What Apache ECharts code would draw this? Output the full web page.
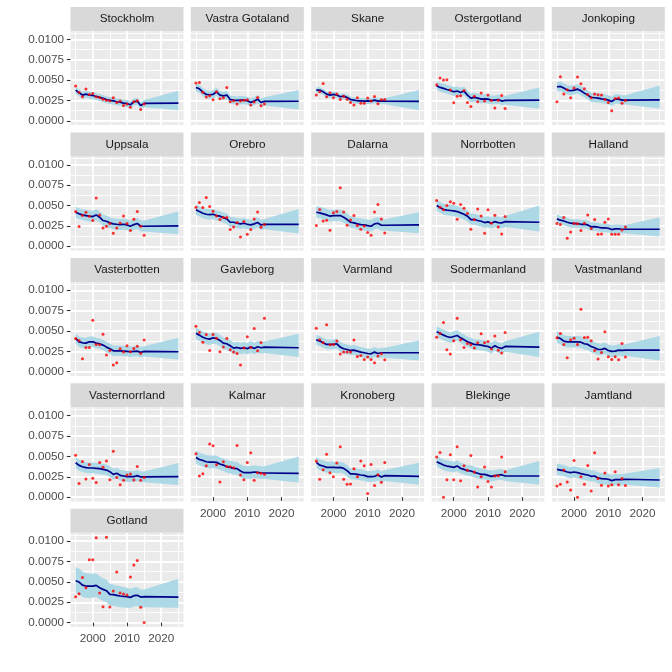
<!DOCTYPE html>
<html><head><meta charset="utf-8">
<script src="https://cdn.jsdelivr.net/npm/echarts@6/dist/echarts.min.js"></script>
<style>html,body{margin:0;padding:0;background:#fff}#c{width:672px;height:672px}</style>
</head><body><div id="c"></div>
<script>
const regions = ["Stockholm","Vastra Gotaland","Skane","Ostergotland","Jonkoping","Uppsala","Orebro","Dalarna","Norrbotten","Halland","Vasterbotten","Gavleborg","Varmland","Sodermanland","Vastmanland","Vasternorrland","Kalmar","Kronoberg","Blekinge","Jamtland","Gotland"];
const pointYears = [1995,1996,1997,1998,1999,2000,2001,2002,2003,2004,2005,2006,2007,2008,2009,2010,2011,2012,2013,2014,2015];
const fitYears = [1995,1996,1997,1998,1999,2000,2001,2002,2003,2004,2005,2006,2007,2008,2009,2010,2011,2012,2013,2014,2015,2025];
const xTicks = [2000, 2010, 2020];
const xMinor = [1995, 2005, 2015, 2025];
const yTicks = [0, 0.0025, 0.005, 0.0075, 0.01];
const yMinor = [0.00125, 0.00375, 0.00625, 0.00875, 0.01075];

const stockholm_pts = [4.26e-3,3.48e-3,2.95e-3,3.90e-3,3.24e-3,3.36e-3,2.95e-3,2.87e-3,2.66e-3,2.54e-3,2.46e-3,2.83e-3,2.25e-3,2.42e-3,1.89e-3,2.05e-3,1.68e-3,2.34e-3,2.46e-3,1.39e-3,2.05e-3];
const stockholm_fit = [3.77e-3,3.44e-3,3.16e-3,3.28e-3,3.16e-3,3.11e-3,2.99e-3,2.87e-3,2.75e-3,2.62e-3,2.50e-3,2.46e-3,2.34e-3,2.30e-3,2.17e-3,2.13e-3,1.97e-3,2.34e-3,2.42e-3,1.89e-3,2.13e-3,2.17e-3];
const stockholm_hi = [4.19e-3,3.86e-3,3.58e-3,3.70e-3,3.58e-3,3.53e-3,3.41e-3,3.29e-3,3.17e-3,3.04e-3,2.92e-3,2.88e-3,2.76e-3,2.72e-3,2.59e-3,2.55e-3,2.39e-3,2.76e-3,2.84e-3,2.31e-3,2.55e-3,3.69e-3];
const stockholm_lo = [3.32e-3,2.99e-3,2.71e-3,2.83e-3,2.71e-3,2.66e-3,2.54e-3,2.42e-3,2.30e-3,2.17e-3,2.05e-3,2.01e-3,1.89e-3,1.85e-3,1.72e-3,1.68e-3,1.52e-3,1.89e-3,1.97e-3,1.44e-3,1.68e-3,1.31e-3];

const vastragotaland_pts = [4.63e-3,4.71e-3,3.52e-3,2.91e-3,3.07e-3,2.58e-3,3.57e-3,2.70e-3,2.83e-3,4.10e-3,2.34e-3,2.46e-3,2.05e-3,2.42e-3,2.54e-3,2.58e-3,1.93e-3,2.30e-3,2.87e-3,1.84e-3,2.05e-3];
const vastragotaland_fit = [4.10e-3,3.93e-3,3.52e-3,3.24e-3,3.20e-3,3.24e-3,3.57e-3,3.16e-3,3.07e-3,3.16e-3,2.62e-3,2.54e-3,2.50e-3,2.54e-3,2.54e-3,2.46e-3,2.25e-3,2.42e-3,2.66e-3,2.25e-3,2.38e-3,2.40e-3];
const vastragotaland_hi = [4.60e-3,4.43e-3,4.02e-3,3.74e-3,3.70e-3,3.74e-3,4.07e-3,3.66e-3,3.57e-3,3.66e-3,3.12e-3,3.04e-3,3.00e-3,3.04e-3,3.04e-3,2.96e-3,2.75e-3,2.92e-3,3.16e-3,2.75e-3,2.88e-3,3.77e-3];
const vastragotaland_lo = [3.60e-3,3.43e-3,3.02e-3,2.74e-3,2.70e-3,2.74e-3,3.07e-3,2.66e-3,2.57e-3,2.66e-3,2.12e-3,2.04e-3,2.00e-3,2.04e-3,2.04e-3,1.96e-3,1.75e-3,1.92e-3,2.16e-3,1.75e-3,1.88e-3,1.39e-3];

const skane_pts = [3.16e-3,3.57e-3,4.59e-3,2.95e-3,3.44e-3,2.83e-3,3.28e-3,2.62e-3,3.03e-3,2.66e-3,2.25e-3,1.93e-3,2.83e-3,2.17e-3,2.17e-3,2.79e-3,2.42e-3,2.99e-3,2.09e-3,2.58e-3,2.62e-3];
const skane_fit = [3.77e-3,3.77e-3,3.57e-3,3.28e-3,3.16e-3,3.24e-3,3.16e-3,2.95e-3,3.03e-3,2.87e-3,2.62e-3,2.54e-3,2.46e-3,2.46e-3,2.42e-3,2.46e-3,2.42e-3,2.54e-3,2.42e-3,2.46e-3,2.42e-3,2.38e-3];
const skane_hi = [4.12e-3,4.12e-3,3.92e-3,3.63e-3,3.51e-3,3.59e-3,3.51e-3,3.30e-3,3.38e-3,3.22e-3,2.97e-3,2.89e-3,2.81e-3,2.81e-3,2.77e-3,2.81e-3,2.77e-3,2.89e-3,2.77e-3,2.81e-3,2.77e-3,3.77e-3];
const skane_lo = [3.39e-3,3.39e-3,3.19e-3,2.90e-3,2.78e-3,2.86e-3,2.78e-3,2.57e-3,2.65e-3,2.49e-3,2.24e-3,2.16e-3,2.08e-3,2.08e-3,2.04e-3,2.08e-3,2.04e-3,2.16e-3,2.04e-3,2.08e-3,2.04e-3,1.31e-3];

const ostergotland_pts = [4.43e-3,5.25e-3,5.00e-3,5.04e-3,3.77e-3,2.21e-3,3.03e-3,3.07e-3,3.73e-3,2.25e-3,1.76e-3,3.03e-3,2.34e-3,3.40e-3,2.42e-3,3.16e-3,2.50e-3,1.56e-3,2.54e-3,3.11e-3,1.52e-3];
const ostergotland_fit = [4.30e-3,4.10e-3,3.98e-3,3.85e-3,3.73e-3,3.57e-3,3.65e-3,3.48e-3,3.65e-3,3.16e-3,2.79e-3,2.87e-3,2.79e-3,2.66e-3,2.70e-3,2.66e-3,2.54e-3,2.54e-3,2.62e-3,2.42e-3,2.50e-3,2.54e-3];
const ostergotland_hi = [4.87e-3,4.67e-3,4.55e-3,4.42e-3,4.30e-3,4.14e-3,4.22e-3,4.05e-3,4.22e-3,3.73e-3,3.36e-3,3.44e-3,3.36e-3,3.23e-3,3.27e-3,3.23e-3,3.11e-3,3.11e-3,3.19e-3,2.99e-3,3.07e-3,4.10e-3];
const ostergotland_lo = [3.78e-3,3.58e-3,3.46e-3,3.33e-3,3.21e-3,3.05e-3,3.13e-3,2.96e-3,3.13e-3,2.64e-3,2.27e-3,2.35e-3,2.27e-3,2.14e-3,2.18e-3,2.14e-3,2.02e-3,2.02e-3,2.10e-3,1.90e-3,1.98e-3,1.48e-3];

const jonkoping_pts = [2.34e-3,5.41e-3,3.28e-3,3.81e-3,2.83e-3,4.02e-3,5.37e-3,4.55e-3,3.93e-3,3.24e-3,2.83e-3,3.28e-3,3.20e-3,3.16e-3,2.62e-3,2.25e-3,1.23e-3,2.75e-3,2.79e-3,2.17e-3,2.50e-3];
const jonkoping_fit = [4.18e-3,4.22e-3,4.02e-3,3.77e-3,3.69e-3,3.77e-3,3.89e-3,3.69e-3,3.40e-3,3.16e-3,2.87e-3,2.83e-3,2.79e-3,2.70e-3,2.66e-3,2.54e-3,2.38e-3,2.66e-3,2.66e-3,2.54e-3,2.54e-3,2.58e-3];
const jonkoping_hi = [4.78e-3,4.82e-3,4.62e-3,4.37e-3,4.29e-3,4.37e-3,4.49e-3,4.29e-3,4.00e-3,3.76e-3,3.47e-3,3.43e-3,3.39e-3,3.30e-3,3.26e-3,3.14e-3,2.98e-3,3.26e-3,3.26e-3,3.14e-3,3.14e-3,4.34e-3];
const jonkoping_lo = [3.63e-3,3.67e-3,3.47e-3,3.22e-3,3.14e-3,3.22e-3,3.34e-3,3.14e-3,2.85e-3,2.61e-3,2.32e-3,2.28e-3,2.24e-3,2.15e-3,2.11e-3,1.99e-3,1.83e-3,2.11e-3,2.11e-3,1.99e-3,1.99e-3,1.52e-3];

const uppsala_pts = [4.26e-3,2.42e-3,3.77e-3,4.18e-3,3.69e-3,3.16e-3,5.94e-3,3.85e-3,2.25e-3,2.46e-3,2.79e-3,1.60e-3,2.25e-3,2.87e-3,3.73e-3,2.79e-3,1.93e-3,3.32e-3,4.26e-3,2.46e-3,1.35e-3];
const uppsala_fit = [4.18e-3,3.98e-3,3.85e-3,3.77e-3,3.69e-3,3.65e-3,3.85e-3,3.57e-3,3.16e-3,3.07e-3,2.87e-3,2.75e-3,2.70e-3,2.66e-3,2.70e-3,2.62e-3,2.46e-3,2.66e-3,2.79e-3,2.46e-3,2.46e-3,2.50e-3];
const uppsala_hi = [4.88e-3,4.68e-3,4.55e-3,4.47e-3,4.39e-3,4.35e-3,4.55e-3,4.27e-3,3.86e-3,3.77e-3,3.57e-3,3.45e-3,3.40e-3,3.36e-3,3.40e-3,3.32e-3,3.16e-3,3.36e-3,3.49e-3,3.16e-3,3.16e-3,4.26e-3];
const uppsala_lo = [3.52e-3,3.32e-3,3.19e-3,3.11e-3,3.03e-3,2.99e-3,3.19e-3,2.91e-3,2.50e-3,2.41e-3,2.21e-3,2.09e-3,2.04e-3,2.00e-3,2.04e-3,1.96e-3,1.80e-3,2.00e-3,2.13e-3,1.80e-3,1.80e-3,1.48e-3];

const orebro_pts = [4.80e-3,5.37e-3,4.75e-3,5.98e-3,4.88e-3,4.30e-3,3.73e-3,3.28e-3,3.52e-3,3.52e-3,2.05e-3,2.38e-3,2.91e-3,1.15e-3,3.03e-3,1.48e-3,2.05e-3,3.36e-3,4.22e-3,2.34e-3,2.66e-3];
const orebro_fit = [4.47e-3,4.26e-3,4.06e-3,3.93e-3,3.89e-3,3.93e-3,3.77e-3,3.69e-3,3.52e-3,3.36e-3,2.95e-3,2.95e-3,2.83e-3,2.75e-3,2.83e-3,2.70e-3,2.62e-3,2.75e-3,2.91e-3,2.62e-3,2.70e-3,2.70e-3];
const orebro_hi = [5.12e-3,4.91e-3,4.71e-3,4.58e-3,4.54e-3,4.58e-3,4.42e-3,4.34e-3,4.17e-3,4.01e-3,3.60e-3,3.60e-3,3.48e-3,3.40e-3,3.48e-3,3.35e-3,3.27e-3,3.40e-3,3.56e-3,3.27e-3,3.35e-3,4.59e-3];
const orebro_lo = [3.85e-3,3.64e-3,3.44e-3,3.31e-3,3.27e-3,3.31e-3,3.15e-3,3.07e-3,2.90e-3,2.74e-3,2.33e-3,2.33e-3,2.21e-3,2.13e-3,2.21e-3,2.08e-3,2.00e-3,2.13e-3,2.29e-3,2.00e-3,2.08e-3,1.56e-3];

const dalarna_pts = [2.54e-3,4.51e-3,3.11e-3,3.20e-3,1.97e-3,4.10e-3,4.26e-3,7.17e-3,4.22e-3,2.58e-3,3.24e-3,3.77e-3,2.54e-3,2.09e-3,2.50e-3,1.68e-3,1.35e-3,4.22e-3,5.12e-3,3.36e-3,1.64e-3];
const dalarna_fit = [4.18e-3,4.10e-3,3.98e-3,3.85e-3,3.69e-3,3.77e-3,3.77e-3,3.77e-3,3.57e-3,3.28e-3,2.95e-3,2.87e-3,2.75e-3,2.66e-3,2.62e-3,2.54e-3,2.46e-3,2.75e-3,2.83e-3,2.58e-3,2.58e-3,2.62e-3];
const dalarna_hi = [4.93e-3,4.85e-3,4.73e-3,4.60e-3,4.44e-3,4.52e-3,4.52e-3,4.52e-3,4.32e-3,4.03e-3,3.70e-3,3.62e-3,3.50e-3,3.41e-3,3.37e-3,3.29e-3,3.21e-3,3.50e-3,3.58e-3,3.33e-3,3.33e-3,4.18e-3];
const dalarna_lo = [3.51e-3,3.43e-3,3.31e-3,3.18e-3,3.02e-3,3.10e-3,3.10e-3,3.10e-3,2.90e-3,2.61e-3,2.28e-3,2.20e-3,2.08e-3,1.99e-3,1.95e-3,1.87e-3,1.79e-3,2.08e-3,2.16e-3,1.91e-3,1.91e-3,1.60e-3];

const norrbotten_pts = [5.61e-3,4.80e-3,4.47e-3,5.00e-3,5.45e-3,5.29e-3,3.32e-3,5.12e-3,4.67e-3,4.02e-3,2.09e-3,3.30e-3,4.59e-3,3.73e-3,1.60e-3,4.47e-3,2.83e-3,3.81e-3,2.38e-3,1.52e-3,3.65e-3];
const norrbotten_fit = [5.00e-3,4.75e-3,4.51e-3,4.43e-3,4.39e-3,4.34e-3,4.26e-3,4.10e-3,3.93e-3,3.69e-3,3.28e-3,3.28e-3,3.16e-3,3.07e-3,2.91e-3,2.99e-3,2.83e-3,3.03e-3,2.91e-3,2.87e-3,3.03e-3,2.95e-3];
const norrbotten_hi = [5.70e-3,5.45e-3,5.21e-3,5.13e-3,5.09e-3,5.04e-3,4.96e-3,4.80e-3,4.63e-3,4.39e-3,3.98e-3,3.98e-3,3.86e-3,3.77e-3,3.61e-3,3.69e-3,3.53e-3,3.73e-3,3.61e-3,3.57e-3,3.73e-3,5.00e-3];
const norrbotten_lo = [4.35e-3,4.10e-3,3.86e-3,3.78e-3,3.74e-3,3.69e-3,3.61e-3,3.45e-3,3.28e-3,3.04e-3,2.63e-3,2.63e-3,2.51e-3,2.42e-3,2.26e-3,2.34e-3,2.18e-3,2.38e-3,2.26e-3,2.22e-3,2.38e-3,1.80e-3];

const halland_pts = [2.79e-3,2.66e-3,3.52e-3,0.98e-3,1.76e-3,2.83e-3,2.75e-3,1.93e-3,2.83e-3,3.85e-3,2.17e-3,3.28e-3,1.48e-3,1.52e-3,2.95e-3,3.36e-3,1.48e-3,1.48e-3,1.48e-3,2.00e-3,2.38e-3];
const halland_fit = [3.36e-3,3.20e-3,3.11e-3,2.95e-3,2.83e-3,2.79e-3,2.79e-3,2.70e-3,2.70e-3,2.62e-3,2.38e-3,2.42e-3,2.34e-3,2.25e-3,2.25e-3,2.21e-3,2.05e-3,2.13e-3,2.13e-3,2.09e-3,2.09e-3,2.09e-3];
const halland_hi = [3.89e-3,3.73e-3,3.64e-3,3.48e-3,3.36e-3,3.32e-3,3.32e-3,3.23e-3,3.23e-3,3.15e-3,2.91e-3,2.95e-3,2.87e-3,2.78e-3,2.78e-3,2.74e-3,2.58e-3,2.66e-3,2.66e-3,2.62e-3,2.62e-3,3.57e-3];
const halland_lo = [2.84e-3,2.68e-3,2.59e-3,2.43e-3,2.31e-3,2.27e-3,2.27e-3,2.18e-3,2.18e-3,2.10e-3,1.86e-3,1.90e-3,1.82e-3,1.73e-3,1.73e-3,1.69e-3,1.53e-3,1.61e-3,1.61e-3,1.57e-3,1.57e-3,1.19e-3];

const vasterbotten_pts = [4.08e-3,3.84e-3,1.59e-3,2.98e-3,2.98e-3,6.33e-3,3.35e-3,3.31e-3,4.61e-3,2.04e-3,2.61e-3,0.82e-3,1.10e-3,2.82e-3,2.41e-3,3.18e-3,2.45e-3,2.86e-3,3.14e-3,2.24e-3,3.88e-3];
const vasterbotten_fit = [4.08e-3,3.67e-3,3.55e-3,3.51e-3,3.67e-3,3.67e-3,3.51e-3,3.43e-3,3.27e-3,3.02e-3,2.82e-3,2.57e-3,2.57e-3,2.57e-3,2.53e-3,2.49e-3,2.45e-3,2.49e-3,2.53e-3,2.37e-3,2.49e-3,2.45e-3];
const vasterbotten_hi = [4.73e-3,4.32e-3,4.20e-3,4.16e-3,4.32e-3,4.32e-3,4.16e-3,4.08e-3,3.92e-3,3.67e-3,3.47e-3,3.22e-3,3.22e-3,3.22e-3,3.18e-3,3.14e-3,3.10e-3,3.14e-3,3.18e-3,3.02e-3,3.14e-3,4.16e-3];
const vasterbotten_lo = [3.45e-3,3.04e-3,2.92e-3,2.88e-3,3.04e-3,3.04e-3,2.88e-3,2.80e-3,2.64e-3,2.39e-3,2.19e-3,1.94e-3,1.94e-3,1.94e-3,1.90e-3,1.86e-3,1.82e-3,1.86e-3,1.90e-3,1.74e-3,1.86e-3,1.51e-3];

const gavleborg_pts = [5.59e-3,4.82e-3,3.63e-3,4.57e-3,2.61e-3,4.57e-3,4.12e-3,2.45e-3,3.02e-3,4.08e-3,2.69e-3,2.41e-3,2.24e-3,0.82e-3,2.90e-3,4.29e-3,2.98e-3,5.31e-3,2.57e-3,3.59e-3,6.57e-3];
const gavleborg_fit = [4.73e-3,4.49e-3,4.24e-3,4.08e-3,4.00e-3,4.16e-3,4.08e-3,3.84e-3,3.51e-3,3.43e-3,3.18e-3,2.90e-3,2.98e-3,2.86e-3,2.98e-3,2.82e-3,3.06e-3,2.86e-3,3.06e-3,2.94e-3,3.02e-3,2.94e-3];
const gavleborg_hi = [5.43e-3,5.19e-3,4.94e-3,4.78e-3,4.70e-3,4.86e-3,4.78e-3,4.54e-3,4.21e-3,4.13e-3,3.88e-3,3.60e-3,3.68e-3,3.56e-3,3.68e-3,3.52e-3,3.76e-3,3.56e-3,3.76e-3,3.64e-3,3.72e-3,4.65e-3];
const gavleborg_lo = [4.01e-3,3.77e-3,3.52e-3,3.36e-3,3.28e-3,3.44e-3,3.36e-3,3.12e-3,2.79e-3,2.71e-3,2.46e-3,2.18e-3,2.26e-3,2.14e-3,2.26e-3,2.10e-3,2.34e-3,2.14e-3,2.34e-3,2.22e-3,2.30e-3,1.80e-3];

const varmland_pts = [5.35e-3,3.92e-3,3.55e-3,5.76e-3,3.31e-3,3.35e-3,3.76e-3,2.16e-3,2.41e-3,2.41e-3,2.41e-3,3.88e-3,1.88e-3,2.00e-3,1.51e-3,1.80e-3,1.51e-3,1.10e-3,1.92e-3,2.20e-3,1.47e-3];
const varmland_fit = [3.92e-3,3.76e-3,3.55e-3,3.35e-3,3.35e-3,3.35e-3,3.43e-3,3.02e-3,2.82e-3,2.73e-3,2.61e-3,2.65e-3,2.53e-3,2.41e-3,2.33e-3,2.24e-3,2.20e-3,2.41e-3,2.24e-3,2.33e-3,2.33e-3,2.33e-3];
const varmland_hi = [4.54e-3,4.38e-3,4.17e-3,3.97e-3,3.97e-3,3.97e-3,4.05e-3,3.64e-3,3.44e-3,3.35e-3,3.23e-3,3.27e-3,3.15e-3,3.03e-3,2.95e-3,2.86e-3,2.82e-3,3.03e-3,2.86e-3,2.95e-3,2.95e-3,3.84e-3];
const varmland_lo = [3.32e-3,3.16e-3,2.95e-3,2.75e-3,2.75e-3,2.75e-3,2.83e-3,2.42e-3,2.22e-3,2.13e-3,2.01e-3,2.05e-3,1.93e-3,1.81e-3,1.73e-3,1.64e-3,1.60e-3,1.81e-3,1.64e-3,1.73e-3,1.73e-3,1.39e-3];

const sodermanland_pts = [4.24e-3,4.69e-3,6.04e-3,2.69e-3,2.16e-3,3.80e-3,6.57e-3,3.92e-3,2.98e-3,3.47e-3,3.31e-3,2.90e-3,3.55e-3,4.65e-3,3.55e-3,3.71e-3,2.78e-3,4.37e-3,2.65e-3,2.29e-3,4.82e-3];
const sodermanland_fit = [4.90e-3,4.73e-3,4.49e-3,4.33e-3,4.20e-3,4.33e-3,4.45e-3,4.16e-3,3.92e-3,3.67e-3,3.51e-3,3.35e-3,3.31e-3,3.27e-3,3.18e-3,3.10e-3,2.90e-3,3.18e-3,2.98e-3,2.86e-3,3.10e-3,3.02e-3];
const sodermanland_hi = [5.55e-3,5.38e-3,5.14e-3,4.98e-3,4.85e-3,4.98e-3,5.10e-3,4.81e-3,4.57e-3,4.32e-3,4.16e-3,4.00e-3,3.96e-3,3.92e-3,3.83e-3,3.75e-3,3.55e-3,3.83e-3,3.63e-3,3.51e-3,3.75e-3,4.90e-3];
const sodermanland_lo = [4.25e-3,4.08e-3,3.84e-3,3.68e-3,3.55e-3,3.68e-3,3.80e-3,3.51e-3,3.27e-3,3.02e-3,2.86e-3,2.70e-3,2.66e-3,2.62e-3,2.53e-3,2.45e-3,2.25e-3,2.53e-3,2.33e-3,2.21e-3,2.45e-3,1.80e-3];

const vastmanland_pts = [4.16e-3,4.69e-3,3.35e-3,1.71e-3,3.92e-3,4.12e-3,3.35e-3,7.67e-3,4.20e-3,4.24e-3,3.80e-3,2.61e-3,1.55e-3,2.37e-3,4.90e-3,1.84e-3,1.51e-3,1.84e-3,1.47e-3,3.47e-3,1.80e-3];
const vastmanland_fit = [4.24e-3,4.08e-3,3.76e-3,3.67e-3,3.67e-3,3.67e-3,3.67e-3,3.63e-3,3.43e-3,3.35e-3,3.10e-3,2.94e-3,2.73e-3,2.73e-3,2.86e-3,2.61e-3,2.49e-3,2.53e-3,2.65e-3,2.61e-3,2.65e-3,2.65e-3];
const vastmanland_hi = [4.96e-3,4.80e-3,4.48e-3,4.39e-3,4.39e-3,4.39e-3,4.39e-3,4.35e-3,4.15e-3,4.07e-3,3.82e-3,3.66e-3,3.45e-3,3.45e-3,3.58e-3,3.33e-3,3.21e-3,3.25e-3,3.37e-3,3.33e-3,3.37e-3,4.37e-3];
const vastmanland_lo = [3.54e-3,3.38e-3,3.06e-3,2.97e-3,2.97e-3,2.97e-3,2.97e-3,2.93e-3,2.73e-3,2.65e-3,2.40e-3,2.24e-3,2.03e-3,2.03e-3,2.16e-3,1.91e-3,1.79e-3,1.83e-3,1.95e-3,1.91e-3,1.95e-3,1.39e-3];

const vasternorrland_pts = [5.16e-3,1.67e-3,4.39e-3,2.24e-3,4.02e-3,2.32e-3,1.79e-3,4.27e-3,3.66e-3,4.43e-3,2.15e-3,5.65e-3,2.40e-3,1.54e-3,2.07e-3,2.72e-3,2.85e-3,2.11e-3,3.78e-3,2.07e-3,2.40e-3];
const vasternorrland_fit = [4.23e-3,3.90e-3,3.74e-3,3.62e-3,3.58e-3,3.58e-3,3.54e-3,3.50e-3,3.41e-3,3.33e-3,3.13e-3,2.80e-3,2.93e-3,2.68e-3,2.60e-3,2.52e-3,2.52e-3,2.52e-3,2.64e-3,2.48e-3,2.48e-3,2.52e-3];
const vasternorrland_hi = [4.91e-3,4.58e-3,4.42e-3,4.30e-3,4.26e-3,4.26e-3,4.22e-3,4.18e-3,4.09e-3,4.01e-3,3.81e-3,3.48e-3,3.61e-3,3.36e-3,3.28e-3,3.20e-3,3.20e-3,3.20e-3,3.32e-3,3.16e-3,3.16e-3,4.19e-3];
const vasternorrland_lo = [3.58e-3,3.25e-3,3.09e-3,2.97e-3,2.93e-3,2.93e-3,2.89e-3,2.85e-3,2.76e-3,2.68e-3,2.48e-3,2.15e-3,2.28e-3,2.03e-3,1.95e-3,1.87e-3,1.87e-3,1.87e-3,1.99e-3,1.83e-3,1.83e-3,1.50e-3];

const kalmar_pts = [5.33e-3,2.60e-3,2.89e-3,3.86e-3,6.54e-3,6.30e-3,3.98e-3,1.87e-3,4.35e-3,3.78e-3,3.74e-3,3.62e-3,6.34e-3,2.72e-3,2.15e-3,4.27e-3,5.45e-3,2.07e-3,3.01e-3,2.93e-3,2.80e-3];
const kalmar_fit = [4.88e-3,4.63e-3,4.51e-3,4.35e-3,4.31e-3,4.31e-3,4.27e-3,4.07e-3,3.94e-3,3.74e-3,3.66e-3,3.54e-3,3.50e-3,3.21e-3,3.01e-3,3.01e-3,3.01e-3,3.09e-3,3.05e-3,2.97e-3,2.97e-3,2.93e-3];
const kalmar_hi = [5.70e-3,5.45e-3,5.33e-3,5.17e-3,5.13e-3,5.13e-3,5.09e-3,4.89e-3,4.76e-3,4.56e-3,4.48e-3,4.36e-3,4.32e-3,4.03e-3,3.83e-3,3.83e-3,3.83e-3,3.91e-3,3.87e-3,3.79e-3,3.79e-3,5.00e-3];
const kalmar_lo = [4.13e-3,3.88e-3,3.76e-3,3.60e-3,3.56e-3,3.56e-3,3.52e-3,3.32e-3,3.19e-3,2.99e-3,2.91e-3,2.79e-3,2.75e-3,2.46e-3,2.26e-3,2.26e-3,2.26e-3,2.34e-3,2.30e-3,2.22e-3,2.22e-3,1.79e-3];

const kronoberg_pts = [4.43e-3,2.20e-3,3.37e-3,5.28e-3,3.01e-3,2.52e-3,4.19e-3,6.18e-3,2.20e-3,1.59e-3,1.63e-3,3.50e-3,2.52e-3,4.43e-3,3.86e-3,0.45e-3,4.02e-3,1.42e-3,2.76e-3,1.83e-3,4.27e-3];
const kronoberg_fit = [4.27e-3,3.94e-3,3.82e-3,3.66e-3,3.66e-3,3.66e-3,3.62e-3,3.66e-3,3.54e-3,3.25e-3,2.85e-3,2.85e-3,2.80e-3,2.72e-3,2.68e-3,2.52e-3,2.52e-3,2.56e-3,2.72e-3,2.48e-3,2.64e-3,2.56e-3];
const kronoberg_hi = [4.97e-3,4.64e-3,4.52e-3,4.36e-3,4.36e-3,4.36e-3,4.32e-3,4.36e-3,4.24e-3,3.95e-3,3.55e-3,3.55e-3,3.50e-3,3.42e-3,3.38e-3,3.22e-3,3.22e-3,3.26e-3,3.42e-3,3.18e-3,3.34e-3,4.23e-3];
const kronoberg_lo = [3.60e-3,3.27e-3,3.15e-3,2.99e-3,2.99e-3,2.99e-3,2.95e-3,2.99e-3,2.87e-3,2.58e-3,2.18e-3,2.18e-3,2.13e-3,2.05e-3,2.01e-3,1.85e-3,1.85e-3,1.89e-3,2.05e-3,1.81e-3,1.97e-3,1.54e-3];

const blekinge_pts = [4.92e-3,5.49e-3,0.00e-3,2.15e-3,5.20e-3,2.15e-3,6.18e-3,2.03e-3,3.86e-3,3.29e-3,5.12e-3,3.09e-3,1.26e-3,2.52e-3,3.70e-3,1.91e-3,1.26e-3,2.60e-3,2.64e-3,4.92e-3,3.13e-3];
const blekinge_fit = [4.35e-3,4.15e-3,3.94e-3,3.82e-3,3.74e-3,3.66e-3,3.82e-3,3.54e-3,3.41e-3,3.25e-3,3.21e-3,3.05e-3,2.93e-3,2.80e-3,2.80e-3,2.68e-3,2.56e-3,2.64e-3,2.72e-3,2.76e-3,2.60e-3,2.60e-3];
const blekinge_hi = [5.05e-3,4.85e-3,4.64e-3,4.52e-3,4.44e-3,4.36e-3,4.52e-3,4.24e-3,4.11e-3,3.95e-3,3.91e-3,3.75e-3,3.63e-3,3.50e-3,3.50e-3,3.38e-3,3.26e-3,3.34e-3,3.42e-3,3.46e-3,3.30e-3,4.43e-3];
const blekinge_lo = [3.72e-3,3.52e-3,3.31e-3,3.19e-3,3.11e-3,3.03e-3,3.19e-3,2.91e-3,2.78e-3,2.62e-3,2.58e-3,2.42e-3,2.30e-3,2.17e-3,2.17e-3,2.05e-3,1.93e-3,2.01e-3,2.09e-3,2.13e-3,1.97e-3,1.54e-3];

const jamtland_pts = [1.38e-3,1.59e-3,3.33e-3,1.87e-3,0.89e-3,4.51e-3,0.00e-3,2.52e-3,1.59e-3,3.90e-3,0.77e-3,5.45e-3,2.28e-3,1.46e-3,2.97e-3,1.38e-3,1.54e-3,3.13e-3,1.54e-3,2.28e-3,1.42e-3];
const jamtland_fit = [3.41e-3,3.33e-3,3.25e-3,3.09e-3,3.01e-3,3.09e-3,3.01e-3,2.89e-3,2.80e-3,2.72e-3,2.56e-3,2.60e-3,2.36e-3,2.28e-3,2.24e-3,2.20e-3,2.03e-3,2.15e-3,2.15e-3,2.15e-3,2.20e-3,2.11e-3];
const jamtland_hi = [4.11e-3,4.03e-3,3.95e-3,3.79e-3,3.71e-3,3.79e-3,3.71e-3,3.59e-3,3.50e-3,3.42e-3,3.26e-3,3.30e-3,3.06e-3,2.98e-3,2.94e-3,2.90e-3,2.73e-3,2.85e-3,2.85e-3,2.85e-3,2.90e-3,3.58e-3];
const jamtland_lo = [2.73e-3,2.65e-3,2.57e-3,2.41e-3,2.33e-3,2.41e-3,2.33e-3,2.21e-3,2.12e-3,2.04e-3,1.88e-3,1.92e-3,1.68e-3,1.60e-3,1.56e-3,1.52e-3,1.35e-3,1.47e-3,1.47e-3,1.47e-3,1.52e-3,1.18e-3];

const gotland_pts = [3.18e-3,3.55e-3,5.55e-3,4.29e-3,7.71e-3,7.71e-3,10.41e-3,3.63e-3,1.96e-3,10.49e-3,1.92e-3,3.88e-3,6.20e-3,3.63e-3,3.51e-3,3.39e-3,5.59e-3,7.06e-3,7.63e-3,1.88e-3,0.00e-3];
const gotland_fit = [5.14e-3,4.98e-3,4.61e-3,4.49e-3,4.49e-3,4.49e-3,4.57e-3,4.29e-3,4.08e-3,3.92e-3,3.47e-3,3.43e-3,3.35e-3,3.27e-3,3.22e-3,3.18e-3,3.10e-3,3.31e-3,3.35e-3,3.14e-3,3.18e-3,3.14e-3];
const gotland_hi = [6.84e-3,6.64e-3,6.23e-3,6.07e-3,6.03e-3,5.99e-3,6.03e-3,5.71e-3,5.46e-3,5.26e-3,4.77e-3,4.69e-3,4.57e-3,4.45e-3,4.36e-3,4.28e-3,4.16e-3,4.33e-3,4.33e-3,4.08e-3,4.08e-3,5.39e-3];
const gotland_lo = [3.64e-3,3.49e-3,3.13e-3,3.02e-3,3.03e-3,3.04e-3,3.13e-3,2.86e-3,2.66e-3,2.51e-3,2.07e-3,2.04e-3,1.97e-3,1.90e-3,1.86e-3,1.83e-3,1.76e-3,1.98e-3,2.03e-3,1.83e-3,1.88e-3,1.84e-3];

const panels = [
  [stockholm_pts, stockholm_fit, stockholm_lo, stockholm_hi],
  [vastragotaland_pts, vastragotaland_fit, vastragotaland_lo, vastragotaland_hi],
  [skane_pts, skane_fit, skane_lo, skane_hi],
  [ostergotland_pts, ostergotland_fit, ostergotland_lo, ostergotland_hi],
  [jonkoping_pts, jonkoping_fit, jonkoping_lo, jonkoping_hi],
  [uppsala_pts, uppsala_fit, uppsala_lo, uppsala_hi],
  [orebro_pts, orebro_fit, orebro_lo, orebro_hi],
  [dalarna_pts, dalarna_fit, dalarna_lo, dalarna_hi],
  [norrbotten_pts, norrbotten_fit, norrbotten_lo, norrbotten_hi],
  [halland_pts, halland_fit, halland_lo, halland_hi],
  [vasterbotten_pts, vasterbotten_fit, vasterbotten_lo, vasterbotten_hi],
  [gavleborg_pts, gavleborg_fit, gavleborg_lo, gavleborg_hi],
  [varmland_pts, varmland_fit, varmland_lo, varmland_hi],
  [sodermanland_pts, sodermanland_fit, sodermanland_lo, sodermanland_hi],
  [vastmanland_pts, vastmanland_fit, vastmanland_lo, vastmanland_hi],
  [vasternorrland_pts, vasternorrland_fit, vasternorrland_lo, vasternorrland_hi],
  [kalmar_pts, kalmar_fit, kalmar_lo, kalmar_hi],
  [kronoberg_pts, kronoberg_fit, kronoberg_lo, kronoberg_hi],
  [blekinge_pts, blekinge_fit, blekinge_lo, blekinge_hi],
  [jamtland_pts, jamtland_fit, jamtland_lo, jamtland_hi],
  [gotland_pts, gotland_fit, gotland_lo, gotland_hi]
];

// layout
const X0 = 70.5, XSTEP = 120.33, PW = 113;
const Y0 = 31, YSTEP = 125.45, PH = 94.1, SH = 24;
const FONT = '"Liberation Sans", Arial, Helvetica, sans-serif';
const chart = echarts.init(document.getElementById('c'), null, {renderer: 'canvas'});

const XMIN = 1993.5, XMAX = 2026.5, YMIN = -0.000525, YMAX = 0.011025;
const grids = [], xAxes = [], yAxes = [], series = [], graphics = [];
const noMinor = {minorTick: {show: false}, minorSplitLine: {show: false}};
regions.forEach((name, i) => {
  const c = i % 5, r = Math.floor(i / 5);
  const left = X0 + c * XSTEP, top = Y0 + r * YSTEP;
  const bottomRow = (r === 4) || (r === 3 && c > 0);
  const leftCol = c === 0;
  grids.push({left: left, top: top, width: PW, height: PH, show: true, backgroundColor: '#EBEBEB', borderWidth: 0, containLabel: false});
  const xi = xAxes.length, yi = yAxes.length;
  // minor grid axes (drawn at the minor break values only)
  xAxes.push(Object.assign({}, noMinor, {
    gridIndex: i, type: 'value', min: XMIN, max: XMAX, minInterval: 5, maxInterval: 5, position: 'top',
    axisLine: {show: false}, axisTick: {show: false, customValues: xMinor}, axisLabel: {show: false, customValues: xMinor},
    splitLine: {show: true, lineStyle: {color: '#FFFFFF', width: 0.9}}
  }));
  yAxes.push(Object.assign({}, noMinor, {
    gridIndex: i, type: 'value', min: YMIN, max: YMAX, minInterval: 0.00125, maxInterval: 0.00125, position: 'right',
    axisLine: {show: false}, axisTick: {show: false, customValues: yMinor}, axisLabel: {show: false, customValues: yMinor},
    splitLine: {show: true, lineStyle: {color: '#FFFFFF', width: 0.9}}
  }));
  // major axes with ticks and labels
  xAxes.push(Object.assign({}, noMinor, {
    gridIndex: i, type: 'value', min: XMIN, max: XMAX, minInterval: 10, maxInterval: 10, position: 'bottom',
    axisLine: {show: false},
    axisTick: {show: bottomRow, length: 3.7, customValues: xTicks, lineStyle: {color: '#333333', width: 1.1}},
    axisLabel: {show: bottomRow, customValues: xTicks, margin: 6.2, color: '#4D4D4D', fontSize: 11.7, fontFamily: FONT, formatter: v => String(v)},
    splitLine: {show: true, lineStyle: {color: '#FFFFFF', width: 1.8}}
  }));
  yAxes.push(Object.assign({}, noMinor, {
    gridIndex: i, type: 'value', min: YMIN, max: YMAX, minInterval: 0.0025, maxInterval: 0.0025, position: 'left',
    axisLine: {show: false},
    axisTick: {show: leftCol, length: 3.7, customValues: yTicks, lineStyle: {color: '#333333', width: 1.1}},
    axisLabel: {show: leftCol, customValues: yTicks, margin: 6.6, color: '#4D4D4D', fontSize: 11.7, fontFamily: FONT, formatter: v => v.toFixed(4)},
    splitLine: {show: true, lineStyle: {color: '#FFFFFF', width: 1.8}}
  }));
  const xa = xi + 1, ya = yi + 1;
  const [pts, fit, lo, hi] = panels[i];
  const bandRows = fitYears.map((y, k) => [y, lo[k], hi[k]]);
  series.push({
    type: 'custom', xAxisIndex: xa, yAxisIndex: ya, silent: true, z: 2,
    data: bandRows, encode: {x: 0, y: [1, 2]},
    renderItem: (params, api) => {
      if (params.dataIndex !== 0) return null;
      const up = bandRows.map(row => api.coord([row[0], row[2]]));
      const dn = bandRows.slice().reverse().map(row => api.coord([row[0], row[1]]));
      return {type: 'polygon', shape: {points: up.concat(dn)}, style: {fill: '#ADD8E6', stroke: null}};
    }
  });
  series.push({
    type: 'line', xAxisIndex: xa, yAxisIndex: ya, silent: true, z: 3,
    data: fitYears.map((y, k) => [y, fit[k]]),
    symbol: 'none', lineStyle: {color: '#00008B', width: 1.7}
  });
  series.push({
    type: 'scatter', xAxisIndex: xa, yAxisIndex: ya, silent: true, z: 4,
    data: pointYears.map((y, k) => [y, pts[k]]),
    symbol: 'circle', symbolSize: 3, itemStyle: {color: '#FF0000'}
  });
  graphics.push({type: 'rect', shape: {x: left, y: top - SH, width: PW, height: SH}, style: {fill: '#D9D9D9'}, silent: true});
  graphics.push({type: 'text', x: left + PW / 2, y: top - SH / 2, silent: true,
    style: {text: name, fill: '#1A1A1A', font: '11.7px ' + FONT, align: 'center', verticalAlign: 'middle', textAlign: 'center', textVerticalAlign: 'middle'}});
});

chart.setOption({
  animation: false,
  backgroundColor: '#FFFFFF',
  grid: grids, xAxis: xAxes, yAxis: yAxes, series: series,
  graphic: {elements: graphics}
});
</script>
</body></html>
